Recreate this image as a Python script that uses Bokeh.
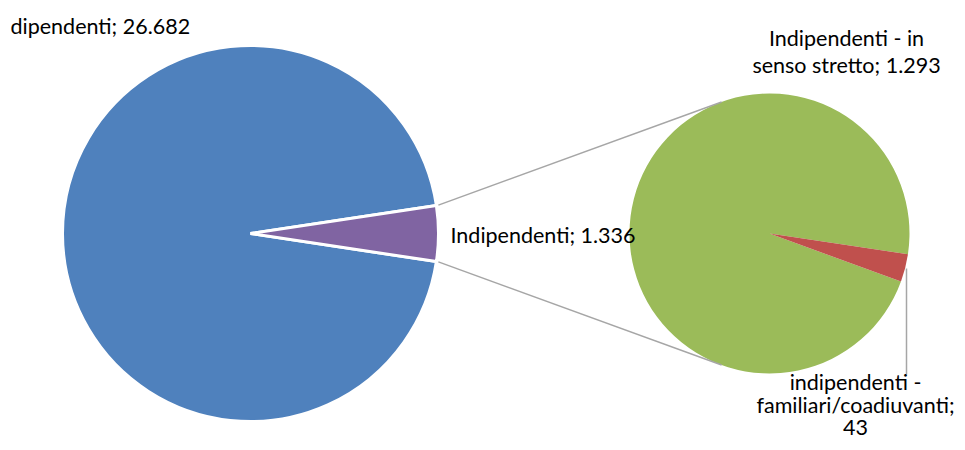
import math
from bokeh.plotting import figure
from bokeh.models import Range1d
from bokeh.core.properties import value
from bokeh.embed import file_html
from bokeh.resources import INLINE

# ---- data ----
main_labels = ["dipendenti", "Indipendenti"]
main_values = [26682, 1336]
main_colors = ["#4F81BD", "#8064A2"]

sub_labels = ["Indipendenti - in senso stretto", "indipendenti - familiari/coadiuvanti"]
sub_values = [1293, 43]
sub_colors = ["#9BBB59", "#C0504D"]

def fmt(v):
    return f"{v:,}".replace(",", ".")

# label line breaks as in the original
main_label_text = [f"{l}; {fmt(v)}" for l, v in zip(main_labels, main_values)]
sub_label_lines = [
    ["Indipendenti - in", f"senso stretto; {fmt(sub_values[0])}"],
    ["indipendenti -", "familiari/coadiuvanti;", fmt(sub_values[1])],
]

W, H = 957, 442
FONT = "Lato"
FS = "21.5px"
TOFF = 8  # baseline compensation for text rendering

def Y(page_y):
    return 450 - page_y

def YT(page_y):
    return 450 - (page_y - TOFF)

p = figure(width=W, height=H, x_range=Range1d(0, W), y_range=Range1d(Y(H), Y(0)),
           output_backend="svg", toolbar_location=None, min_border=0)
p.axis.visible = False
p.grid.visible = False
p.outline_line_color = None
p.background_fill_color = "white"

# ---- left pie ----
cx1, cy1, r1 = 250, Y(233), 188
total = sum(main_values)
half = main_values[1] / total * math.pi  # half span of "Indipendenti" slice, centred at 0
p.wedge(x=cx1, y=cy1, radius=r1, start_angle=half, end_angle=2 * math.pi - half,
        fill_color=main_colors[0], line_color="white", line_width=3)
p.wedge(x=cx1, y=cy1, radius=r1, start_angle=-half, end_angle=half,
        fill_color=main_colors[1], line_color="white", line_width=3)

# ---- right pie ----
cx2, cy2, r2 = 769, Y(233), 140
sub_total = sum(sub_values)
red_start = math.radians(-20.1)
red_end = red_start + sub_values[1] / sub_total * 2 * math.pi
p.wedge(x=cx2, y=cy2, radius=r2, start_angle=red_end, end_angle=red_start + 2 * math.pi,
        fill_color=sub_colors[0], line_color=None)
p.wedge(x=cx2, y=cy2, radius=r2, start_angle=red_start, end_angle=red_end,
        fill_color=sub_colors[1], line_color=None)

# ---- connector lines ----
a_top = math.radians(110)
a_bot = math.radians(-110)
x_top0 = cx1 + (r1 + 2) * math.cos(half)
y_top0 = cy1 + (r1 + 2) * math.sin(half)
x_bot0 = cx1 + (r1 + 2) * math.cos(-half)
y_bot0 = cy1 + (r1 + 2) * math.sin(-half)
p.segment(x0=[x_top0, x_bot0], y0=[y_top0, y_bot0],
          x1=[cx2 + r2 * math.cos(a_top), cx2 + r2 * math.cos(a_bot)],
          y1=[cy2 + r2 * math.sin(a_top), cy2 + r2 * math.sin(a_bot)],
          line_color="#A6A6A6", line_width=1.5)

# leader line for small slice
p.segment(x0=[906], y0=[Y(268)], x1=[906], y1=[Y(374)], line_color="#A6A6A6", line_width=1.5)

# ---- labels ----
p.text(x=[10], y=[YT(33)], text=[main_label_text[0]], text_font=value(FONT), text_font_size=FS,
       text_align="left", text_baseline="alphabetic", text_color="black")
p.text(x=[450], y=[YT(242)], text=[main_label_text[1]], text_font=value(FONT), text_font_size=FS,
       text_align="left", text_baseline="alphabetic", text_color="black")

top_bases = [45, 72.5]
p.text(x=[846] * 2, y=[YT(b) for b in top_bases], text=sub_label_lines[0], text_font=value(FONT),
       text_font_size=FS, text_align="center", text_baseline="alphabetic", text_color="black")
bot_bases = [389, 412.5, 435]
p.text(x=[855] * 3, y=[YT(b) for b in bot_bases], text=sub_label_lines[1], text_font=value(FONT),
       text_font_size=FS, text_align="center", text_baseline="alphabetic", text_color="black")

open("out.html", "w").write(file_html(p, INLINE))
